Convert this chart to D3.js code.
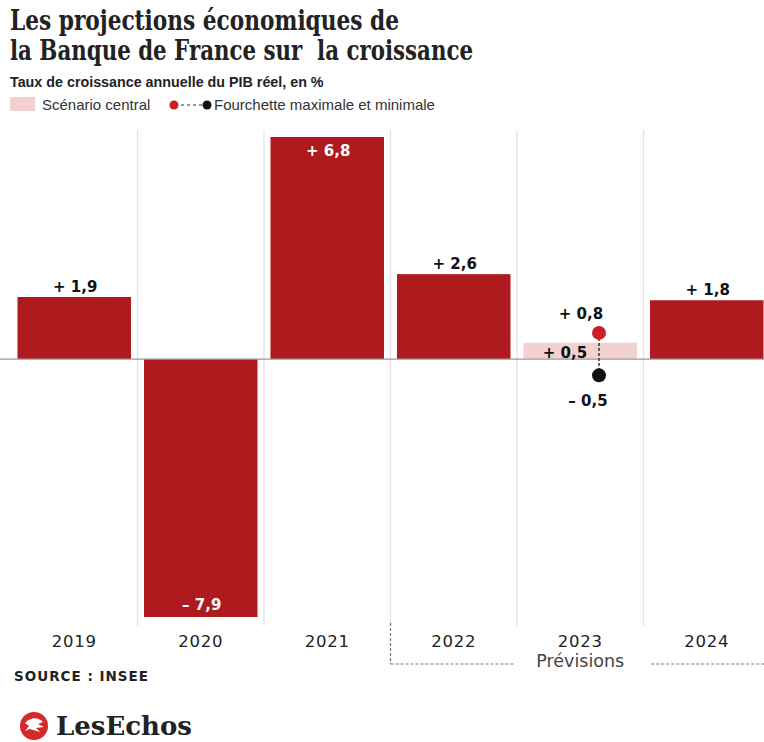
<!DOCTYPE html>
<html lang="fr">
<head>
<meta charset="utf-8">
<script src="https://cdn.jsdelivr.net/npm/d3@7"></script>
<style>
  html, body { margin: 0; padding: 0; background: #fff; }
  svg { display: block; }
</style>
</head>
<body>
<svg id="chart" width="764" height="742"></svg>
<script>
// Croissance annuelle du PIB réel, en %
const years = ["2019", "2020", "2021", "2022", "2023", "2024"];
const growth = [1.9, -7.9, 6.8, 2.6, 0.5, 1.8];
const growthLabels = ["+ 1,9", "– 7,9", "+ 6,8", "+ 2,6", "+ 0,5", "+ 1,8"];
const isCentralScenario = [false, false, false, false, true, false];
// Fourchette 2023
const rangeYear = "2023";
const rangeValues = [0.8, -0.5];
const rangeLabels = ["+ 0,8", "– 0,5"];
const forecastYears = ["2022", "2023", "2024"];

const RED = "#ae1a1d";
const PINK = "#f3d0d1";
const sans = "'Liberation Sans', Arial, sans-serif";
const wide = "'DejaVu Sans', sans-serif";
const serif = "'DejaVu Serif', serif";

const svg = d3.select("#chart");

// Titre (deux lignes, largeur fixée)
svg.append("text").attr("x", 10).attr("y", 30)
  .attr("font-family", serif).attr("font-weight", "bold").attr("font-size", 27)
  .attr("textLength", 389).attr("lengthAdjust", "spacingAndGlyphs")
  .attr("fill", "#222").text("Les projections économiques de");
svg.append("text").attr("x", 10).attr("y", 60)
  .attr("font-family", serif).attr("font-weight", "bold").attr("font-size", 27)
  .attr("textLength", 463).attr("lengthAdjust", "spacingAndGlyphs")
  .attr("fill", "#222").attr("xml:space", "preserve").text("la Banque de France sur  la croissance");

svg.append("text").attr("x", 10).attr("y", 87)
  .attr("font-family", sans).attr("font-weight", "bold").attr("font-size", 14.3)
  .attr("fill", "#222").text("Taux de croissance annuelle du PIB réel, en %");

// Légende
svg.append("rect").attr("x", 10).attr("y", 97).attr("width", 25).attr("height", 14).attr("fill", PINK);
svg.append("text").attr("x", 42).attr("y", 110)
  .attr("font-family", sans).attr("font-size", 15).attr("fill", "#333").text("Scénario central");
svg.append("line").attr("x1", 175).attr("x2", 206).attr("y1", 105).attr("y2", 105)
  .attr("stroke", "#333").attr("stroke-width", 1.2).attr("stroke-dasharray", "3,3");
svg.append("circle").attr("cx", 174).attr("cy", 105).attr("r", 4.5).attr("fill", "#cc1f24");
svg.append("circle").attr("cx", 207).attr("cy", 105).attr("r", 4.5).attr("fill", "#111");
svg.append("text").attr("x", 214).attr("y", 110)
  .attr("font-family", sans).attr("font-size", 15).attr("fill", "#333").text("Fourchette maximale et minimale");

// Échelles
const x = d3.scaleBand().domain(years).range([11, 770]).paddingInner(0).paddingOuter(0);
const y = d3.scaleLinear().domain([-7.9, 6.8]).range([617, 137]);
const barPad = 6.5;

const data = years.map((yr, i) => ({ year: yr, value: growth[i], label: growthLabels[i], central: isCentralScenario[i] }));

// Séparateurs verticaux
const g = svg.append("g");
g.selectAll("line.sep").data(years.slice(1)).join("line")
  .attr("class", "sep")
  .attr("x1", d => x(d)).attr("x2", d => x(d))
  .attr("y1", 130).attr("y2", 626)
  .attr("stroke", "#e3e3e3").attr("stroke-width", 1.3);

// Barres
g.selectAll("rect.bar").data(data).join("rect")
  .attr("class", "bar")
  .attr("x", d => x(d.year) + barPad)
  .attr("width", x.bandwidth() - 2 * barPad)
  .attr("y", d => y(Math.max(0, d.value)))
  .attr("height", d => Math.abs(y(d.value) - y(0)))
  .attr("fill", d => d.central ? PINK : RED);

// Ligne du zéro
g.append("line").attr("x1", 0).attr("x2", 764).attr("y1", y(0)).attr("y2", y(0))
  .attr("stroke", "#9a9a9a").attr("stroke-width", 1.2);

// Étiquettes de valeurs
g.selectAll("text.val").data(data).join("text")
  .attr("class", "val")
  .attr("font-family", wide).attr("font-weight", "bold").attr("font-size", 15)
  .attr("text-anchor", "middle")
  .attr("x", d => d.central ? x(d.year) + 48 : x(d.year) + x.bandwidth() / 2 + 1)
  .attr("y", d => {
    if (d.central) return y(d.value) + 15;
    if (d.value < 0) return y(d.value) - 7;
    if (d.value > 5) return y(d.value) + 19;
    return y(d.value) - 5;
  })
  .attr("fill", d => (d.value < 0 || d.value > 5) ? "#fff" : "#111")
  .text(d => d.label);

// Fourchette 2023
const cx = x(rangeYear) + 82;
g.append("line").attr("x1", cx).attr("x2", cx)
  .attr("y1", y(rangeValues[0])).attr("y2", y(rangeValues[1]))
  .attr("stroke", "#333").attr("stroke-width", 1.5).attr("stroke-dasharray", "3,2");
g.selectAll("circle.rng").data(rangeValues).join("circle")
  .attr("class", "rng")
  .attr("cx", cx).attr("cy", d => y(d)).attr("r", 7)
  .attr("fill", (d, i) => i === 0 ? "#cc1f24" : "#111");
g.selectAll("text.rng").data(rangeValues).join("text")
  .attr("class", "rng")
  .attr("font-family", wide).attr("font-weight", "bold").attr("font-size", 15)
  .attr("text-anchor", "middle")
  .attr("x", (d, i) => i === 0 ? cx - 18 : cx - 11)
  .attr("y", (d, i) => i === 0 ? y(d) - 14 : y(d) + 31)
  .attr("fill", "#111")
  .text((d, i) => rangeLabels[i]);

// Axe des années
const xAxis = g.append("g").attr("transform", "translate(0,641)")
  .call(d3.axisBottom(x).tickSize(0).tickPadding(0));
xAxis.select(".domain").remove();
xAxis.selectAll("text")
  .attr("font-family", wide).attr("font-size", 16.5).attr("fill", "#222")
  .attr("letter-spacing", 0.8)
  .attr("dy", "0.35em");

// Accolade « Prévisions »
const fx0 = x(forecastYears[0]);
const fx1 = x(forecastYears[forecastYears.length - 1]) + x.bandwidth();
const fmid = x("2023") + x.bandwidth() / 2;
const bracket = svg.append("g").attr("stroke", "#777").attr("stroke-width", 1.2)
  .attr("stroke-dasharray", "3,2").attr("fill", "none");
bracket.append("line").attr("x1", fx0).attr("x2", fx0).attr("y1", 623).attr("y2", 664);
bracket.append("line").attr("x1", fx0).attr("x2", fmid - 67).attr("y1", 664).attr("y2", 664);
bracket.append("line").attr("x1", fmid + 71).attr("x2", fx1).attr("y1", 664).attr("y2", 664);
svg.append("text").attr("x", fmid).attr("y", 667)
  .attr("text-anchor", "middle").attr("font-family", wide).attr("font-size", 17.5)
  .attr("fill", "#444").text("Prévisions");

// Source
svg.append("text").attr("x", 14).attr("y", 681)
  .attr("font-family", wide).attr("font-weight", "bold").attr("font-size", 13.5)
  .attr("letter-spacing", 1).attr("fill", "#222").text("SOURCE : INSEE");

// Logo
const logo = svg.append("g").attr("transform", "translate(34,726)");
logo.append("circle").attr("r", 14).attr("fill", "#d42a2a");
logo.append("path").attr("d", "M-9,-3 C-3,-9 4,-9 9,-4 L4,-2 L10,1 L2,2 L6,6 L-4,3 L-9,5 L-5,0 Z")
  .attr("fill", "#fff");
svg.append("text").attr("x", 56).attr("y", 735)
  .attr("font-family", serif).attr("font-weight", "bold").attr("font-size", 26)
  .attr("letter-spacing", 0).attr("fill", "#222").text("LesEchos");
</script>
</body>
</html>
